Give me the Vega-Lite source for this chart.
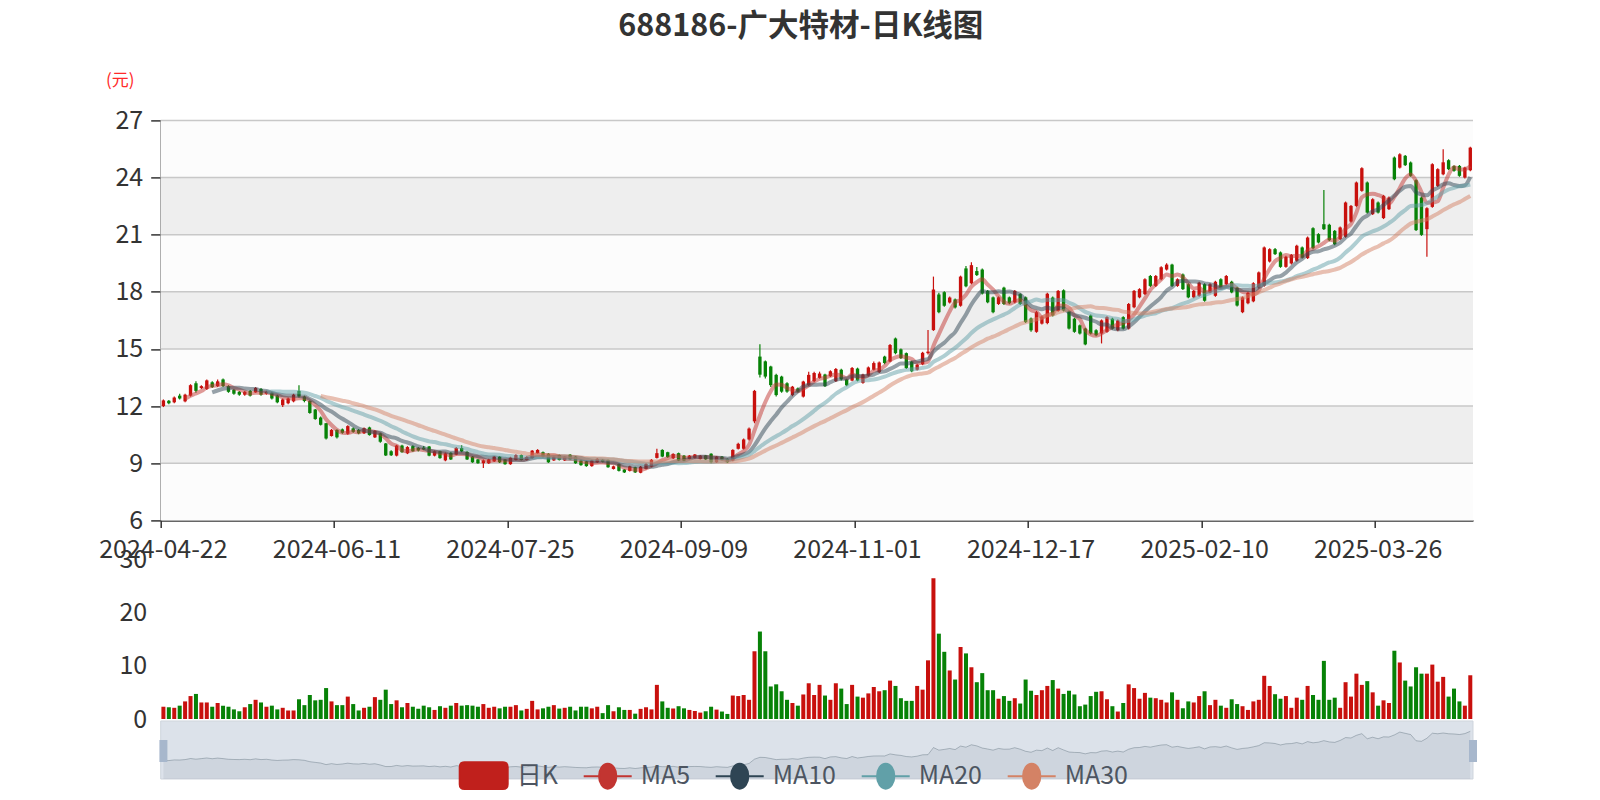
{
"$schema":"https://vega.github.io/schema/vega-lite/v6.json",
"width":1312.3,"height":400,
"autosize":{"type":"none"},
"padding":{"left":160.7,"top":120.4,"right":127,"bottom":279.6},
"background":"white",
"title":{"text":"688186-广大特材-日K线图","font":"Noto Sans CJK SC","fontSize":30.5,"fontWeight":"bold","color":"#333333","anchor":"middle","frame":"group","dx":-16,"offset":29},
"config":{"view":{"stroke":null},"font":"Noto Sans CJK SC"},
"datasets":{
"bands":[{"lo":6,"hi":9,"k":"a"},{"lo":9,"hi":12,"k":"b"},{"lo":12,"hi":15,"k":"a"},{"lo":15,"hi":18,"k":"b"},{"lo":18,"hi":21,"k":"a"},{"lo":21,"hi":24,"k":"b"},{"lo":24,"hi":27,"k":"a"}],
"k":[
{"d":"2024-04-22","o":12.0,"c":12.3,"h":12.35,"l":11.95,"v":2.3},
{"d":"2024-04-23","o":12.28,"c":12.15,"h":12.32,"l":12.1,"v":2.2},
{"d":"2024-04-24","o":12.2,"c":12.45,"h":12.5,"l":12.15,"v":2.1},
{"d":"2024-04-25","o":12.55,"c":12.4,"h":12.65,"l":12.35,"v":2.5},
{"d":"2024-04-26","o":12.25,"c":12.6,"h":12.65,"l":12.2,"v":3.3},
{"d":"2024-04-29","o":12.55,"c":13.1,"h":13.15,"l":12.5,"v":4.3},
{"d":"2024-04-30","o":13.2,"c":12.8,"h":13.3,"l":12.7,"v":4.7},
{"d":"2024-05-06","o":12.95,"c":13.05,"h":13.1,"l":12.9,"v":3.1},
{"d":"2024-05-07","o":12.9,"c":13.35,"h":13.4,"l":12.85,"v":3.1},
{"d":"2024-05-08","o":13.25,"c":13.0,"h":13.3,"l":12.95,"v":2.3},
{"d":"2024-05-09","o":13.05,"c":13.3,"h":13.4,"l":13.0,"v":3.0},
{"d":"2024-05-10","o":13.4,"c":13.05,"h":13.45,"l":13.0,"v":2.5},
{"d":"2024-05-13","o":13.05,"c":12.75,"h":13.1,"l":12.7,"v":2.3},
{"d":"2024-05-14","o":12.85,"c":12.65,"h":12.9,"l":12.6,"v":1.8},
{"d":"2024-05-15","o":12.75,"c":12.6,"h":12.8,"l":12.55,"v":1.45},
{"d":"2024-05-16","o":12.6,"c":12.75,"h":12.8,"l":12.55,"v":2.2},
{"d":"2024-05-17","o":12.8,"c":12.55,"h":12.85,"l":12.5,"v":2.8},
{"d":"2024-05-20","o":12.72,"c":12.95,"h":13.0,"l":12.7,"v":3.6},
{"d":"2024-05-21","o":12.9,"c":12.6,"h":12.95,"l":12.55,"v":3.1},
{"d":"2024-05-22","o":12.65,"c":12.75,"h":12.8,"l":12.6,"v":2.3},
{"d":"2024-05-23","o":12.7,"c":12.4,"h":12.75,"l":12.35,"v":2.5},
{"d":"2024-05-24","o":12.55,"c":12.2,"h":12.6,"l":12.15,"v":1.8},
{"d":"2024-05-27","o":12.05,"c":12.35,"h":12.4,"l":11.95,"v":2.1},
{"d":"2024-05-28","o":12.15,"c":12.4,"h":12.45,"l":12.1,"v":1.6},
{"d":"2024-05-29","o":12.25,"c":12.6,"h":12.65,"l":12.2,"v":1.6},
{"d":"2024-05-30","o":12.8,"c":12.5,"h":13.1,"l":12.45,"v":3.7},
{"d":"2024-05-31","o":12.5,"c":12.27,"h":12.55,"l":12.2,"v":2.6},
{"d":"2024-06-03","o":12.27,"c":11.64,"h":12.3,"l":11.6,"v":4.5},
{"d":"2024-06-04","o":11.82,"c":11.32,"h":11.85,"l":11.28,"v":3.5},
{"d":"2024-06-05","o":11.4,"c":11.02,"h":11.45,"l":10.98,"v":3.6},
{"d":"2024-06-06","o":11.1,"c":10.3,"h":11.12,"l":10.25,"v":5.8},
{"d":"2024-06-07","o":10.43,"c":10.75,"h":10.8,"l":10.4,"v":3.3},
{"d":"2024-06-11","o":10.75,"c":10.36,"h":10.78,"l":10.3,"v":2.6},
{"d":"2024-06-12","o":10.78,"c":10.6,"h":10.82,"l":10.55,"v":2.6},
{"d":"2024-06-13","o":10.55,"c":10.95,"h":11.0,"l":10.5,"v":4.2},
{"d":"2024-06-14","o":10.83,"c":10.65,"h":10.88,"l":10.6,"v":2.8},
{"d":"2024-06-17","o":10.75,"c":10.57,"h":10.8,"l":10.52,"v":1.6},
{"d":"2024-06-18","o":10.57,"c":10.84,"h":10.88,"l":10.53,"v":2.1},
{"d":"2024-06-19","o":10.88,"c":10.48,"h":10.92,"l":10.45,"v":2.3},
{"d":"2024-06-20","o":10.36,"c":10.7,"h":10.74,"l":10.32,"v":4.1},
{"d":"2024-06-21","o":10.57,"c":10.13,"h":10.6,"l":10.08,"v":3.6},
{"d":"2024-06-24","o":10.04,"c":9.41,"h":10.06,"l":9.38,"v":5.5},
{"d":"2024-06-25","o":9.63,"c":9.42,"h":9.68,"l":9.38,"v":2.8},
{"d":"2024-06-26","o":9.4,"c":9.93,"h":9.97,"l":9.36,"v":3.5},
{"d":"2024-06-27","o":9.93,"c":9.58,"h":9.97,"l":9.55,"v":2.2},
{"d":"2024-06-28","o":9.52,"c":9.85,"h":9.9,"l":9.48,"v":3.0},
{"d":"2024-07-01","o":9.9,"c":9.63,"h":9.95,"l":9.6,"v":2.3},
{"d":"2024-07-02","o":9.8,"c":9.67,"h":9.85,"l":9.62,"v":1.9},
{"d":"2024-07-03","o":9.82,"c":9.72,"h":9.9,"l":9.68,"v":2.5},
{"d":"2024-07-04","o":9.88,"c":9.4,"h":9.9,"l":9.37,"v":2.2},
{"d":"2024-07-05","o":9.4,"c":9.63,"h":9.67,"l":9.36,"v":1.7},
{"d":"2024-07-08","o":9.63,"c":9.27,"h":9.66,"l":9.24,"v":2.4},
{"d":"2024-07-09","o":9.15,"c":9.52,"h":9.56,"l":9.1,"v":2.1},
{"d":"2024-07-10","o":9.55,"c":9.2,"h":9.58,"l":9.17,"v":2.5},
{"d":"2024-07-11","o":9.45,"c":9.8,"h":9.85,"l":9.42,"v":3.0},
{"d":"2024-07-12","o":9.8,"c":9.62,"h":9.95,"l":9.58,"v":2.5},
{"d":"2024-07-15","o":9.6,"c":9.2,"h":9.63,"l":9.17,"v":2.6},
{"d":"2024-07-16","o":9.35,"c":9.05,"h":9.38,"l":9.02,"v":2.5},
{"d":"2024-07-17","o":9.2,"c":9.0,"h":9.23,"l":8.97,"v":2.3},
{"d":"2024-07-18","o":9.0,"c":9.15,"h":9.2,"l":8.75,"v":2.8},
{"d":"2024-07-19","o":9.0,"c":9.2,"h":9.24,"l":8.96,"v":2.1},
{"d":"2024-07-22","o":9.1,"c":9.35,"h":9.38,"l":9.07,"v":2.3},
{"d":"2024-07-23","o":9.35,"c":9.05,"h":9.38,"l":9.02,"v":2.0},
{"d":"2024-07-24","o":9.2,"c":8.95,"h":9.23,"l":8.92,"v":2.3},
{"d":"2024-07-25","o":8.95,"c":9.3,"h":9.34,"l":8.92,"v":2.3},
{"d":"2024-07-26","o":9.17,"c":9.43,"h":9.47,"l":9.14,"v":2.6},
{"d":"2024-07-29","o":9.43,"c":9.17,"h":9.46,"l":9.14,"v":1.6},
{"d":"2024-07-30","o":9.17,"c":9.33,"h":9.37,"l":9.14,"v":1.9},
{"d":"2024-07-31","o":9.27,"c":9.66,"h":9.7,"l":9.24,"v":3.4},
{"d":"2024-08-01","o":9.52,"c":9.7,"h":9.74,"l":9.49,"v":1.8},
{"d":"2024-08-02","o":9.58,"c":9.35,"h":9.62,"l":9.32,"v":2.0},
{"d":"2024-08-05","o":9.5,"c":9.05,"h":9.53,"l":9.02,"v":2.3},
{"d":"2024-08-06","o":9.15,"c":9.35,"h":9.38,"l":9.12,"v":2.6},
{"d":"2024-08-07","o":9.43,"c":9.17,"h":9.46,"l":9.14,"v":1.95},
{"d":"2024-08-08","o":9.15,"c":9.35,"h":9.38,"l":9.12,"v":2.1},
{"d":"2024-08-09","o":9.45,"c":9.2,"h":9.48,"l":9.17,"v":2.3},
{"d":"2024-08-12","o":9.35,"c":9.0,"h":9.38,"l":8.97,"v":1.6},
{"d":"2024-08-13","o":9.15,"c":8.9,"h":9.18,"l":8.87,"v":2.3},
{"d":"2024-08-14","o":9.1,"c":8.85,"h":9.13,"l":8.82,"v":2.3},
{"d":"2024-08-15","o":8.85,"c":9.15,"h":9.18,"l":8.82,"v":2.0},
{"d":"2024-08-16","o":9.05,"c":9.23,"h":9.27,"l":9.02,"v":2.3},
{"d":"2024-08-19","o":9.18,"c":9.08,"h":9.22,"l":9.04,"v":1.1},
{"d":"2024-08-20","o":9.18,"c":8.79,"h":9.2,"l":8.76,"v":2.6},
{"d":"2024-08-21","o":8.7,"c":8.84,"h":8.88,"l":8.67,"v":1.45},
{"d":"2024-08-22","o":8.96,"c":8.6,"h":8.99,"l":8.57,"v":2.2},
{"d":"2024-08-23","o":8.67,"c":8.52,"h":8.7,"l":8.49,"v":1.7},
{"d":"2024-08-26","o":8.6,"c":8.84,"h":8.87,"l":8.57,"v":1.7},
{"d":"2024-08-27","o":8.79,"c":8.52,"h":8.82,"l":8.49,"v":1.0},
{"d":"2024-08-28","o":8.5,"c":8.82,"h":8.85,"l":8.47,"v":1.9},
{"d":"2024-08-29","o":8.7,"c":8.96,"h":9.0,"l":8.67,"v":2.2},
{"d":"2024-08-30","o":8.82,"c":9.18,"h":9.22,"l":8.79,"v":1.8},
{"d":"2024-09-02","o":9.28,"c":9.53,"h":9.76,"l":9.25,"v":6.4},
{"d":"2024-09-03","o":9.7,"c":9.35,"h":9.73,"l":9.32,"v":3.3},
{"d":"2024-09-04","o":9.58,"c":9.32,"h":9.6,"l":9.29,"v":2.1},
{"d":"2024-09-05","o":9.26,"c":9.49,"h":9.52,"l":9.23,"v":1.95},
{"d":"2024-09-06","o":9.53,"c":9.14,"h":9.56,"l":9.11,"v":2.4},
{"d":"2024-09-09","o":9.4,"c":9.14,"h":9.43,"l":9.11,"v":2.0},
{"d":"2024-09-10","o":9.23,"c":9.4,"h":9.43,"l":9.2,"v":1.7},
{"d":"2024-09-11","o":9.28,"c":9.46,"h":9.49,"l":9.25,"v":1.5},
{"d":"2024-09-12","o":9.23,"c":9.4,"h":9.43,"l":9.2,"v":1.2},
{"d":"2024-09-13","o":9.41,"c":9.2,"h":9.44,"l":9.17,"v":1.45},
{"d":"2024-09-18","o":9.5,"c":9.05,"h":9.53,"l":9.0,"v":2.3},
{"d":"2024-09-19","o":9.05,"c":9.35,"h":9.38,"l":9.02,"v":1.76},
{"d":"2024-09-20","o":9.35,"c":9.18,"h":9.38,"l":9.15,"v":1.4},
{"d":"2024-09-23","o":9.23,"c":9.05,"h":9.26,"l":9.02,"v":0.95},
{"d":"2024-09-24","o":9.14,"c":9.7,"h":9.74,"l":9.11,"v":4.4},
{"d":"2024-09-25","o":9.76,"c":10.02,"h":10.08,"l":9.72,"v":4.3},
{"d":"2024-09-26","o":9.76,"c":10.25,"h":10.3,"l":9.72,"v":4.5},
{"d":"2024-09-27","o":10.25,"c":10.82,"h":10.88,"l":10.2,"v":3.6},
{"d":"2024-09-30","o":11.2,"c":12.8,"h":12.85,"l":11.1,"v":12.7},
{"d":"2024-10-08","o":14.6,"c":13.65,"h":15.25,"l":13.5,"v":16.4},
{"d":"2024-10-09","o":14.35,"c":13.55,"h":14.4,"l":13.45,"v":12.7},
{"d":"2024-10-10","o":14.08,"c":13.1,"h":14.12,"l":13.0,"v":6.1},
{"d":"2024-10-11","o":13.64,"c":12.58,"h":13.7,"l":12.5,"v":6.5},
{"d":"2024-10-14","o":13.55,"c":12.76,"h":13.6,"l":12.7,"v":5.2},
{"d":"2024-10-15","o":13.2,"c":12.76,"h":13.25,"l":12.7,"v":3.6},
{"d":"2024-10-16","o":12.58,"c":13.02,"h":13.06,"l":12.52,"v":3.0},
{"d":"2024-10-17","o":12.93,"c":12.76,"h":12.98,"l":12.72,"v":2.5},
{"d":"2024-10-18","o":12.5,"c":13.29,"h":13.33,"l":12.45,"v":4.6},
{"d":"2024-10-21","o":13.1,"c":13.64,"h":13.81,"l":13.05,"v":6.7},
{"d":"2024-10-22","o":13.31,"c":13.74,"h":13.8,"l":13.25,"v":4.5},
{"d":"2024-10-23","o":13.48,"c":13.71,"h":13.81,"l":13.44,"v":6.4},
{"d":"2024-10-24","o":13.66,"c":13.05,"h":13.7,"l":13.0,"v":4.4},
{"d":"2024-10-25","o":13.57,"c":13.83,"h":13.88,"l":13.53,"v":3.6},
{"d":"2024-10-28","o":13.31,"c":13.95,"h":14.0,"l":13.27,"v":6.7},
{"d":"2024-10-29","o":13.91,"c":13.4,"h":13.96,"l":13.35,"v":5.7},
{"d":"2024-10-30","o":13.4,"c":13.09,"h":13.44,"l":13.04,"v":2.8},
{"d":"2024-10-31","o":13.34,"c":14.0,"h":14.05,"l":13.3,"v":6.4},
{"d":"2024-11-01","o":13.97,"c":13.34,"h":14.02,"l":13.3,"v":4.2},
{"d":"2024-11-04","o":13.22,"c":13.66,"h":13.7,"l":13.18,"v":4.0},
{"d":"2024-11-05","o":13.6,"c":14.03,"h":14.08,"l":13.56,"v":4.8},
{"d":"2024-11-06","o":13.91,"c":14.26,"h":14.34,"l":13.87,"v":6.0},
{"d":"2024-11-07","o":13.78,"c":14.29,"h":14.34,"l":13.74,"v":5.2},
{"d":"2024-11-08","o":14.6,"c":14.26,"h":14.65,"l":14.2,"v":5.4},
{"d":"2024-11-11","o":14.34,"c":15.21,"h":15.26,"l":14.3,"v":7.2},
{"d":"2024-11-12","o":15.55,"c":14.78,"h":15.6,"l":14.72,"v":6.2},
{"d":"2024-11-13","o":14.98,"c":14.52,"h":15.02,"l":14.47,"v":3.9},
{"d":"2024-11-14","o":14.78,"c":14.0,"h":14.82,"l":13.95,"v":3.4},
{"d":"2024-11-15","o":14.34,"c":13.83,"h":14.38,"l":13.78,"v":3.4},
{"d":"2024-11-18","o":13.91,"c":14.17,"h":14.22,"l":13.87,"v":6.2},
{"d":"2024-11-19","o":14.2,"c":14.8,"h":14.85,"l":14.15,"v":5.5},
{"d":"2024-11-20","o":14.78,"c":14.86,"h":15.99,"l":14.71,"v":11.0},
{"d":"2024-11-21","o":15.99,"c":18.12,"h":18.8,"l":15.95,"v":26.4},
{"d":"2024-11-22","o":17.86,"c":16.93,"h":17.95,"l":16.88,"v":16.0},
{"d":"2024-11-25","o":17.98,"c":17.27,"h":18.03,"l":17.22,"v":12.6},
{"d":"2024-11-26","o":17.44,"c":17.7,"h":17.75,"l":17.39,"v":9.1},
{"d":"2024-11-27","o":17.6,"c":17.18,"h":17.65,"l":17.13,"v":7.4},
{"d":"2024-11-28","o":17.27,"c":18.8,"h":18.85,"l":17.22,"v":13.5},
{"d":"2024-11-29","o":19.23,"c":18.29,"h":19.35,"l":18.24,"v":12.3},
{"d":"2024-12-02","o":18.45,"c":19.4,"h":19.55,"l":18.4,"v":9.7},
{"d":"2024-12-03","o":19.09,"c":18.88,"h":19.3,"l":18.83,"v":6.9},
{"d":"2024-12-04","o":19.17,"c":17.91,"h":19.22,"l":17.86,"v":8.6},
{"d":"2024-12-05","o":18.05,"c":17.45,"h":18.1,"l":17.4,"v":5.4},
{"d":"2024-12-06","o":17.71,"c":16.93,"h":17.76,"l":16.88,"v":5.4},
{"d":"2024-12-09","o":17.36,"c":17.71,"h":17.76,"l":17.31,"v":3.8},
{"d":"2024-12-10","o":18.22,"c":17.36,"h":18.27,"l":17.31,"v":4.3},
{"d":"2024-12-11","o":17.71,"c":17.4,"h":17.76,"l":17.35,"v":3.4},
{"d":"2024-12-12","o":17.45,"c":18.05,"h":18.1,"l":17.4,"v":3.9},
{"d":"2024-12-13","o":17.88,"c":17.36,"h":17.93,"l":17.31,"v":2.9},
{"d":"2024-12-16","o":17.71,"c":16.41,"h":17.76,"l":16.36,"v":7.4},
{"d":"2024-12-17","o":16.6,"c":15.98,"h":16.65,"l":15.9,"v":5.3},
{"d":"2024-12-18","o":15.9,"c":16.93,"h":17.0,"l":15.85,"v":4.5},
{"d":"2024-12-19","o":16.33,"c":16.7,"h":16.75,"l":16.28,"v":5.4},
{"d":"2024-12-20","o":16.36,"c":17.9,"h":17.95,"l":16.3,"v":6.2},
{"d":"2024-12-23","o":17.7,"c":16.76,"h":17.75,"l":16.7,"v":7.3},
{"d":"2024-12-24","o":17.0,"c":18.05,"h":18.1,"l":16.95,"v":5.7},
{"d":"2024-12-25","o":18.08,"c":17.02,"h":18.13,"l":16.97,"v":4.7},
{"d":"2024-12-26","o":16.97,"c":16.07,"h":17.02,"l":16.02,"v":5.3},
{"d":"2024-12-27","o":16.59,"c":15.9,"h":16.64,"l":15.85,"v":4.6},
{"d":"2024-12-30","o":16.24,"c":15.81,"h":16.29,"l":15.76,"v":2.4},
{"d":"2024-12-31","o":16.07,"c":15.24,"h":16.12,"l":15.2,"v":2.7},
{"d":"2025-01-02","o":16.76,"c":15.81,"h":16.81,"l":15.76,"v":4.3},
{"d":"2025-01-03","o":15.98,"c":15.72,"h":16.03,"l":15.67,"v":5.1},
{"d":"2025-01-06","o":15.81,"c":16.5,"h":16.55,"l":15.29,"v":5.2},
{"d":"2025-01-07","o":15.9,"c":16.67,"h":16.72,"l":15.85,"v":3.7},
{"d":"2025-01-08","o":16.59,"c":16.07,"h":16.64,"l":16.02,"v":2.4},
{"d":"2025-01-09","o":15.98,"c":16.5,"h":16.55,"l":15.93,"v":1.4},
{"d":"2025-01-10","o":16.67,"c":16.07,"h":16.72,"l":16.02,"v":3.0},
{"d":"2025-01-13","o":16.07,"c":17.36,"h":17.41,"l":16.02,"v":6.5},
{"d":"2025-01-14","o":17.19,"c":18.05,"h":18.1,"l":17.14,"v":5.8},
{"d":"2025-01-15","o":17.71,"c":18.14,"h":18.19,"l":17.66,"v":3.8},
{"d":"2025-01-16","o":17.88,"c":18.66,"h":18.71,"l":17.83,"v":4.9},
{"d":"2025-01-17","o":18.83,"c":18.31,"h":18.88,"l":18.26,"v":4.0},
{"d":"2025-01-20","o":18.31,"c":18.83,"h":18.88,"l":18.26,"v":3.9},
{"d":"2025-01-21","o":18.66,"c":19.29,"h":19.34,"l":18.61,"v":3.6},
{"d":"2025-01-22","o":19.17,"c":19.43,"h":19.5,"l":19.12,"v":3.1},
{"d":"2025-01-23","o":19.43,"c":18.31,"h":19.48,"l":18.26,"v":5.0},
{"d":"2025-01-24","o":18.31,"c":18.66,"h":18.71,"l":18.26,"v":3.6},
{"d":"2025-01-27","o":18.91,"c":18.14,"h":18.96,"l":18.09,"v":2.0},
{"d":"2025-02-05","o":18.4,"c":17.71,"h":18.45,"l":17.66,"v":3.3},
{"d":"2025-02-06","o":17.71,"c":18.05,"h":18.1,"l":17.66,"v":3.1},
{"d":"2025-02-07","o":17.79,"c":18.48,"h":18.53,"l":17.74,"v":4.3},
{"d":"2025-02-10","o":18.4,"c":17.53,"h":18.45,"l":17.48,"v":5.2},
{"d":"2025-02-11","o":17.97,"c":18.4,"h":18.45,"l":17.92,"v":2.6},
{"d":"2025-02-12","o":17.79,"c":18.53,"h":18.58,"l":17.74,"v":3.6},
{"d":"2025-02-13","o":18.66,"c":18.22,"h":18.71,"l":18.17,"v":2.5},
{"d":"2025-02-14","o":18.4,"c":18.83,"h":18.88,"l":18.35,"v":2.1},
{"d":"2025-02-17","o":18.53,"c":17.97,"h":18.58,"l":17.92,"v":3.7},
{"d":"2025-02-18","o":18.22,"c":17.28,"h":18.27,"l":17.23,"v":2.8},
{"d":"2025-02-19","o":16.93,"c":17.71,"h":17.76,"l":16.88,"v":2.4},
{"d":"2025-02-20","o":17.4,"c":17.95,"h":18.0,"l":17.35,"v":1.7},
{"d":"2025-02-21","o":17.5,"c":18.45,"h":18.5,"l":17.45,"v":3.3},
{"d":"2025-02-24","o":18.23,"c":19.02,"h":19.07,"l":18.18,"v":3.6},
{"d":"2025-02-25","o":18.32,"c":20.33,"h":20.38,"l":18.27,"v":8.1},
{"d":"2025-02-26","o":19.59,"c":20.24,"h":20.29,"l":19.54,"v":6.2},
{"d":"2025-02-27","o":20.24,"c":19.98,"h":20.3,"l":19.93,"v":4.65},
{"d":"2025-02-28","o":20.07,"c":19.31,"h":20.12,"l":19.26,"v":3.8},
{"d":"2025-03-03","o":19.31,"c":19.84,"h":19.89,"l":19.26,"v":4.3},
{"d":"2025-03-04","o":19.49,"c":19.94,"h":19.99,"l":19.44,"v":2.1},
{"d":"2025-03-05","o":19.63,"c":20.42,"h":20.47,"l":19.58,"v":4.0},
{"d":"2025-03-06","o":20.33,"c":19.8,"h":20.38,"l":19.75,"v":3.6},
{"d":"2025-03-07","o":19.77,"c":20.85,"h":20.9,"l":19.72,"v":6.2},
{"d":"2025-03-10","o":21.34,"c":20.29,"h":21.39,"l":20.24,"v":4.5},
{"d":"2025-03-11","o":21.03,"c":20.59,"h":21.08,"l":20.54,"v":3.6},
{"d":"2025-03-12","o":21.55,"c":21.29,"h":23.34,"l":21.24,"v":10.9},
{"d":"2025-03-13","o":21.52,"c":20.71,"h":21.57,"l":20.66,"v":3.6},
{"d":"2025-03-14","o":21.2,"c":20.5,"h":21.25,"l":20.45,"v":4.0},
{"d":"2025-03-17","o":20.77,"c":21.38,"h":21.43,"l":20.72,"v":2.1},
{"d":"2025-03-18","o":20.89,"c":22.69,"h":22.74,"l":20.84,"v":6.9},
{"d":"2025-03-19","o":21.69,"c":22.51,"h":22.56,"l":21.64,"v":4.2},
{"d":"2025-03-20","o":22.51,"c":23.74,"h":23.79,"l":22.46,"v":8.5},
{"d":"2025-03-21","o":23.3,"c":24.49,"h":24.54,"l":23.25,"v":6.4},
{"d":"2025-03-24","o":23.74,"c":22.16,"h":23.79,"l":22.11,"v":7.1},
{"d":"2025-03-25","o":22.08,"c":22.86,"h":22.91,"l":22.03,"v":5.0},
{"d":"2025-03-26","o":22.69,"c":22.16,"h":22.74,"l":22.11,"v":2.5},
{"d":"2025-03-27","o":21.87,"c":23.04,"h":23.09,"l":21.82,"v":3.5},
{"d":"2025-03-28","o":22.34,"c":22.95,"h":23.0,"l":22.29,"v":3.0},
{"d":"2025-03-31","o":25.05,"c":23.91,"h":25.1,"l":23.86,"v":12.8},
{"d":"2025-04-01","o":24.52,"c":25.22,"h":25.27,"l":24.47,"v":10.6},
{"d":"2025-04-02","o":25.14,"c":24.65,"h":25.19,"l":24.6,"v":7.2},
{"d":"2025-04-03","o":24.79,"c":24.09,"h":24.84,"l":24.04,"v":6.1},
{"d":"2025-04-07","o":23.86,"c":21.24,"h":23.91,"l":21.19,"v":9.7},
{"d":"2025-04-08","o":22.95,"c":20.99,"h":23.0,"l":20.94,"v":8.5},
{"d":"2025-04-09","o":21.29,"c":22.39,"h":22.44,"l":19.84,"v":8.5},
{"d":"2025-04-10","o":22.46,"c":24.7,"h":24.75,"l":22.41,"v":10.2},
{"d":"2025-04-11","o":23.56,"c":24.44,"h":24.49,"l":23.51,"v":7.0},
{"d":"2025-04-14","o":24.17,"c":24.8,"h":25.49,"l":24.12,"v":7.9},
{"d":"2025-04-15","o":24.91,"c":24.44,"h":24.96,"l":24.39,"v":4.2},
{"d":"2025-04-16","o":24.6,"c":24.35,"h":24.65,"l":24.3,"v":5.7},
{"d":"2025-04-17","o":24.61,"c":24.09,"h":24.66,"l":24.04,"v":3.3},
{"d":"2025-04-18","o":24.0,"c":24.52,"h":24.57,"l":23.95,"v":2.5},
{"d":"2025-04-21","o":24.38,"c":25.57,"h":25.62,"l":24.33,"v":8.2}
]},
"layer":[
{"layer":[
 {"data":{"name":"bands"},"mark":{"type":"rect"},
  "encoding":{
   "y":{"field":"lo","type":"quantitative","scale":{"domain":[6,27],"nice":false,"zero":false},
    "axis":{"values":[6,9,12,15,18,21,24,27],"grid":false,"domainColor":"#333333","domainWidth":1.5,"tickColor":"#333333","tickSize":10,"tickWidth":1.5,"labelFontSize":25,"labelColor":"#333333","labelPadding":8,"title":"(元)","titleColor":"#ff2a2a","titleFontSize":17,"titleFontWeight":"normal","titleAngle":0,"titleX":-41,"titleY":-40,"titleAlign":"center","titleBaseline":"middle"}},
   "y2":{"field":"hi"},
   "fill":{"field":"k","type":"nominal","scale":{"domain":["a","b"],"range":["#fcfcfc","#eeeeee"]},"legend":null}}},
 {"data":{"name":"bands"},"mark":{"type":"rule","color":"#c8c8c8","strokeWidth":1.5},
  "encoding":{"y":{"field":"hi","type":"quantitative"}}},
 {"data":{"name":"k"},"mark":{"type":"rule","strokeWidth":1.2},
  "encoding":{
   "x":{"field":"d","type":"ordinal","scale":{"type":"band","paddingInner":0,"paddingOuter":0},
    "axis":{"values":["2024-04-22","2024-06-11","2024-07-25","2024-09-09","2024-11-01","2024-12-17","2025-02-10","2025-03-26"],"bandPosition":0,"labelAngle":0,"labelFontSize":25,"labelColor":"#333333","domainColor":"#333333","domainWidth":1.5,"tickColor":"#333333","tickSize":7,"tickWidth":1.5,"labelPadding":10,"title":null,"grid":false,"labelOverlap":false}},
   "y":{"field":"l","type":"quantitative"},"y2":{"field":"h"},
   "color":{"condition":{"test":"datum.c >= datum.o","value":"#c8100d"},"value":"#078207"}}},
 {"data":{"name":"k"},"mark":{"type":"bar","width":{"band":0.62}},
  "encoding":{
   "x":{"field":"d","type":"ordinal","scale":{"type":"band","paddingInner":0,"paddingOuter":0}},
   "y":{"field":"o","type":"quantitative"},"y2":{"field":"c"},
   "color":{"condition":{"test":"datum.c >= datum.o","value":"#c8100d"},"value":"#078207"}}},
 {"data":{"name":"k"},
  "transform":[{"window":[{"op":"mean","field":"c","as":"m"},{"op":"count","field":"c","as":"n"}],"frame":[-4,0],"sort":[{"field":"d","order":"ascending"}]},{"filter":"datum.n >= 5"}],
  "mark":{"type":"line","interpolate":"monotone","strokeWidth":4,"opacity":0.5},
  "encoding":{"x":{"field":"d","type":"ordinal","scale":{"type":"band","paddingInner":0,"paddingOuter":0}},"y":{"field":"m","type":"quantitative"},
   "color":{"datum":"MA5","type":"nominal","scale":{"domain":["日K","MA5","MA10","MA20","MA30"],"range":["#c0201c","#c23531","#2f4554","#61a0a8","#d48265"]},
    "legend":{"orient":"none","legendX":298,"legendY":630,"direction":"horizontal","columns":5,"title":null,"symbolSize":2304,"symbolStrokeWidth":2,"symbolOpacity":1,"labelFontSize":25,"labelColor":"#4d5561","labelOffset":8,"columnPadding":21,
     "encode":{"symbols":{"update":{"shape":{"signal":"datum.value === '日K' ? 'M-0.8,-0.56L0.8,-0.56Q1,-0.56 1,-0.36L1,0.36Q1,0.56 0.8,0.56L-0.8,0.56Q-1,0.56 -1,0.36L-1,-0.36Q-1,-0.56 -0.8,-0.56Z' : 'M-1,0L-0.36,0M0.36,0L1,0M-0.36,0A0.36,0.52 0 1,0 0.36,0A0.36,0.52 0 1,0 -0.36,0Z'"},"fill":{"scale":"color","field":"value"},"stroke":{"scale":"color","field":"value"},"opacity":{"value":1}}}}}}}},
 {"data":{"name":"k"},
  "transform":[{"window":[{"op":"mean","field":"c","as":"m"},{"op":"count","field":"c","as":"n"}],"frame":[-9,0],"sort":[{"field":"d","order":"ascending"}]},{"filter":"datum.n >= 10"}],
  "mark":{"type":"line","interpolate":"monotone","strokeWidth":4,"opacity":0.5},
  "encoding":{"x":{"field":"d","type":"ordinal","scale":{"type":"band","paddingInner":0,"paddingOuter":0}},"y":{"field":"m","type":"quantitative"},"color":{"datum":"MA10","type":"nominal"}}},
 {"data":{"name":"k"},
  "transform":[{"window":[{"op":"mean","field":"c","as":"m"},{"op":"count","field":"c","as":"n"}],"frame":[-19,0],"sort":[{"field":"d","order":"ascending"}]},{"filter":"datum.n >= 20"}],
  "mark":{"type":"line","interpolate":"monotone","strokeWidth":4,"opacity":0.5},
  "encoding":{"x":{"field":"d","type":"ordinal","scale":{"type":"band","paddingInner":0,"paddingOuter":0}},"y":{"field":"m","type":"quantitative"},"color":{"datum":"MA20","type":"nominal"}}},
 {"data":{"name":"k"},
  "transform":[{"window":[{"op":"mean","field":"c","as":"m"},{"op":"count","field":"c","as":"n"}],"frame":[-29,0],"sort":[{"field":"d","order":"ascending"}]},{"filter":"datum.n >= 30"}],
  "mark":{"type":"line","interpolate":"monotone","strokeWidth":4,"opacity":0.5},
  "encoding":{"x":{"field":"d","type":"ordinal","scale":{"type":"band","paddingInner":0,"paddingOuter":0}},"y":{"field":"m","type":"quantitative"},"color":{"datum":"MA30","type":"nominal"}}}
]},
{"data":{"name":"k"},"mark":{"type":"bar","width":{"band":0.74}},
 "encoding":{
  "x":{"field":"d","type":"ordinal","scale":{"type":"band","paddingInner":0,"paddingOuter":0}},
  "y":{"field":"v","type":"quantitative","scale":{"domain":[0,30],"range":[598.6,438.6],"nice":false},
   "axis":{"orient":"left","values":[0,10,20,30],"domain":false,"ticks":false,"tickSize":0,"grid":false,"labelFontSize":25,"labelColor":"#333333","labelPadding":14,"title":null}},
  "color":{"condition":{"test":"datum.c >= datum.o","value":"#c8100d"},"value":"#078207"}}},
{"layer":[
 {"data":{"values":[{}]},"mark":{"type":"rect","fill":"#dce2ea","stroke":"#cfd5dd","strokeWidth":1},
  "encoding":{"y":{"datum":30.3,"type":"quantitative","scale":{"domain":[3.7,30.3],"range":[658.6,600.6],"nice":false,"zero":false},"axis":null},"y2":{"datum":3.7}}},
 {"data":{"name":"k"},"mark":{"type":"area","color":"#2f4554","opacity":0.08,"interpolate":"linear"},
  "encoding":{"x":{"field":"d","type":"ordinal","scale":{"type":"band","paddingInner":0,"paddingOuter":0}},"y":{"field":"c","type":"quantitative"},"y2":{"datum":3.7}}},
 {"data":{"name":"k"},"mark":{"type":"line","color":"#2f4554","opacity":0.3,"strokeWidth":1},
  "encoding":{"x":{"field":"d","type":"ordinal","scale":{"type":"band","paddingInner":0,"paddingOuter":0}},"y":{"field":"c","type":"quantitative"}}},
 {"data":{"values":[{}]},"mark":{"type":"rule","strokeWidth":8,"color":"#a7b7cc"},
  "encoding":{"x":{"datum":"2024-04-22","type":"ordinal","bandPosition":0.5},"y":{"datum":21.6,"type":"quantitative"},"y2":{"datum":11.5}}},
 {"data":{"values":[{}]},"mark":{"type":"rule","strokeWidth":8,"color":"#a7b7cc"},
  "encoding":{"x":{"datum":"2025-04-21","type":"ordinal","bandPosition":1},"y":{"datum":21.6,"type":"quantitative"},"y2":{"datum":11.5}}}
]}
],
"resolve":{"scale":{"y":"independent"},"axis":{"y":"independent"}}
}
